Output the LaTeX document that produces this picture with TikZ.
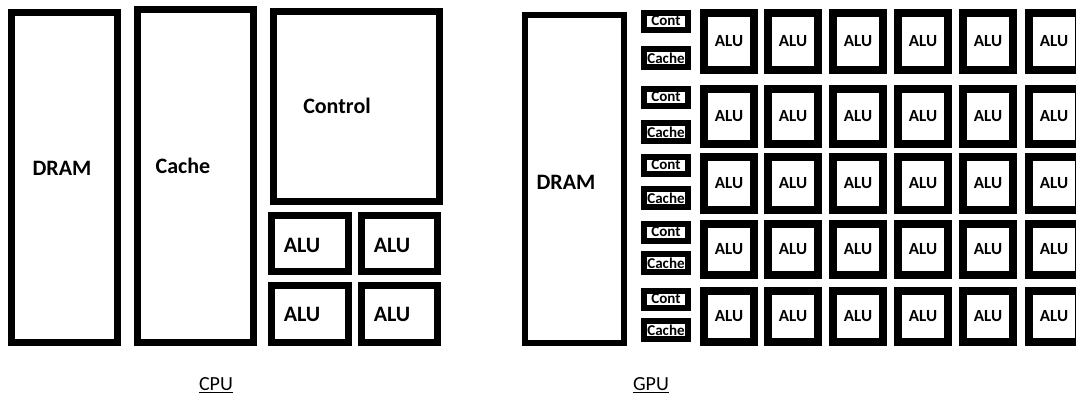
\documentclass[tikz,border=0pt]{standalone}
\usepackage{fontspec}
\setmainfont{Carlito}
\tikzset{
    lab/.style={
        font=\bfseries\fontsize{22}{26}\selectfont
    },
    title/.style={
        font=\fontsize{20}{24}\selectfont
    },
    cpubox/.style={draw, line width=7pt, inner sep=0pt},
    alubox/.style={draw, line width=8pt, inner sep=0pt, minimum width=50pt,
        font=\bfseries\fontsize{17}{20}\selectfont},
    smallbox/.style={draw, line width=6pt, fill=white, inner sep=0pt,
        minimum width=44pt, minimum height=17pt,
        font=\bfseries\fontsize{15}{18}\selectfont}
}
\begin{document}
\begin{tikzpicture}[x=1pt,y=-1pt,line join=miter]

% page frame (the last column runs off the right edge)
    \clip (0,0) rectangle (1076,399);

% --- CPU ---
    \node[cpubox, minimum width=106pt, minimum height=330pt] (cdram)  at (64.5,177.5) {};
    \node[cpubox, minimum width=116pt, minimum height=333pt] (ccache) at (195.5,176) {};
    \node[cpubox, minimum width=166pt, minimum height=190pt] (cctrl)  at (356.5,106.5) {};
    \node[cpubox, minimum width=77pt, minimum height=56pt] (calua) at (310,243.5) {};
    \node[cpubox, minimum width=76pt, minimum height=56pt] (calub) at (399.5,243.5) {};
    \node[cpubox, minimum width=77pt, minimum height=57pt] (caluc) at (310,314) {};
    \node[cpubox, minimum width=76pt, minimum height=57pt] (calud) at (399.5,314) {};

% CPU labels
    \node[lab] (cdramlab)  at (62,168)  {DRAM};
    \node[lab] (ccachelab) at (183,166) {Cache};
    \node[lab] (cctrllab)  at (337,106) {Control};
    \node[lab] (calualab)  at (302,245) {ALU};
    \node[lab] (calublab)  at (392,245) {ALU};
    \node[lab] (caluclab)  at (302,314) {ALU};
    \node[lab] (caludlab)  at (392,314) {ALU};

% --- GPU ---
    \node[cpubox, line width=6pt, minimum width=99pt, minimum height=328pt] (gdram) at (574.5,179) {};
    \node[lab] (gdramlab) at (566,182) {DRAM};

% rows of cont/cache + six ALUs
    \foreach \t/\b [count=\r] in {9/74, 85/148, 153/214, 220/279, 287/346} {
      \pgfmathsetmacro\h{\b-\t-8}
      \node[smallbox] (cont\r) at (666,\t+12) {Cont};
      \node[smallbox, minimum height=18pt] (cache\r) at (666,\b-16) {Cache};
      \foreach \x [count=\c] in {700,764,829,894,959,1025} {
        \node[alubox, minimum height=\h pt] (alu\r\c) at (\x+29,{(\t+\b)/2}) {ALU};
      }
    }

% titles
    \node[title] (cputitle) at (216,385) {\underline{CPU}};
    \node[title] (gputitle) at (651,385) {\underline{GPU}};

\end{tikzpicture}
\end{document}
